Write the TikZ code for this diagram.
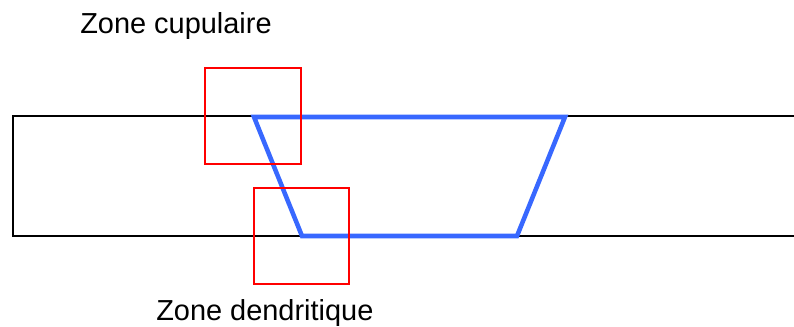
\documentclass[tikz,border=0pt]{standalone}
\usepackage{fontspec}
\setmainfont{Liberation Sans}
\usetikzlibrary{positioning}
\definecolor{zoneblue}{RGB}{56,104,255}
\tikzset{
 band/.style={draw=black,line width=1pt},
 weld/.style={draw=zoneblue,line width=3.4pt},
 zonebox/.style={draw=red,line width=1.1pt},
 zonelabel/.style={anchor=base west,inner sep=0pt,font=\fontsize{21.7}{26}\selectfont}
}
\begin{document}
\begin{tikzpicture}[x=0.75pt,y=-0.75pt]
\useasboundingbox (0,0) rectangle (794,326);
% plaque
\draw[band] (794,116) -- (13,116) -- (13,236) -- (794,236);
% cordon
\coordinate (tl) at (254,117);
\coordinate (tr) at (565,117);
\coordinate (br) at (517,236);
\coordinate (bl) at (302,236);
\draw[weld] (tl) -- (tr) -- (br) -- (bl) -- cycle;
% zones
\draw[zonebox] (205,68) rectangle (301,164);
\draw[zonebox] (254,188) rectangle (349,284);
\node[zonelabel] (cupule) at (80,33) {Zone cupulaire};
\node[zonelabel] (dendrite) at (156,320) {Zone dendritique};
\end{tikzpicture}
\end{document}
